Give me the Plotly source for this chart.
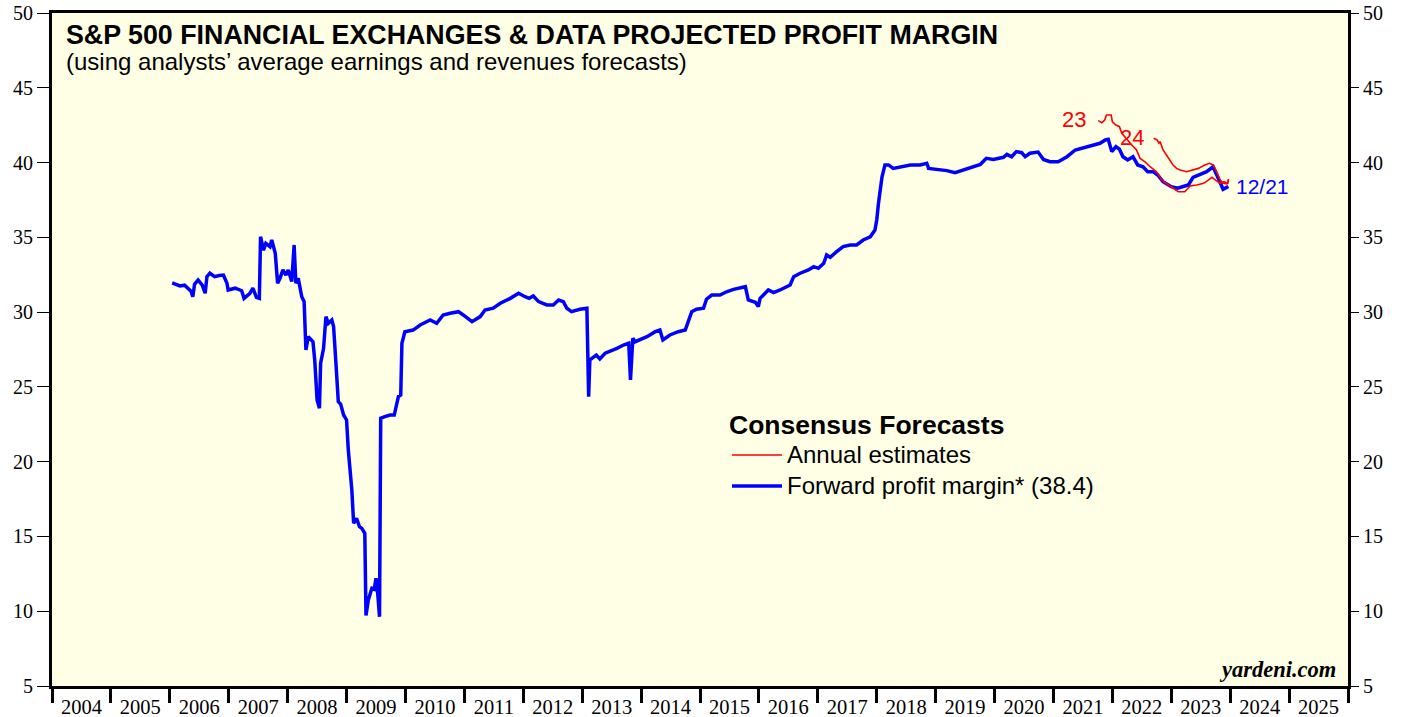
import plotly.graph_objects as go

# ---------------- data ----------------
fwd_year = [2006.04, 2006.10, 2006.17, 2006.25, 2006.31, 2006.36, 2006.39, 2006.42, 2006.48, 2006.55,
            2006.60, 2006.63, 2006.68, 2006.76, 2006.84, 2006.91, 2006.97, 2006.99, 2007.11, 2007.22,
            2007.26, 2007.36, 2007.41, 2007.47, 2007.52, 2007.54, 2007.59, 2007.63, 2007.70, 2007.73,
            2007.79, 2007.83, 2007.87, 2007.92, 2007.97, 2008.01, 2008.07, 2008.11, 2008.14, 2008.18,
            2008.24, 2008.28, 2008.31, 2008.35, 2008.43, 2008.46, 2008.50, 2008.54, 2008.56, 2008.61,
            2008.65, 2008.69, 2008.75, 2008.78, 2008.82, 2008.86, 2008.90, 2008.95, 2009.00, 2009.03,
            2009.09, 2009.12, 2009.17, 2009.22, 2009.26, 2009.31, 2009.33, 2009.37, 2009.43, 2009.47,
            2009.50, 2009.52, 2009.56, 2009.58, 2009.65, 2009.74, 2009.81, 2009.84, 2009.88, 2009.92,
            2009.94, 2009.99, 2010.13, 2010.25, 2010.42, 2010.53, 2010.64, 2010.76, 2010.90, 2010.98,
            2011.13, 2011.27, 2011.35, 2011.49, 2011.61, 2011.78, 2011.92, 2012.03, 2012.10, 2012.17,
            2012.26, 2012.40, 2012.51, 2012.60, 2012.68, 2012.74, 2012.82, 2012.96, 2013.08, 2013.11,
            2013.13, 2013.24, 2013.30, 2013.39, 2013.47, 2013.59, 2013.70, 2013.79, 2013.82, 2013.86,
            2013.90, 2013.98, 2014.10, 2014.24, 2014.32, 2014.37, 2014.49, 2014.63, 2014.75, 2014.80,
            2014.86, 2014.94, 2015.06, 2015.11, 2015.20, 2015.34, 2015.45, 2015.57, 2015.68, 2015.77,
            2015.82, 2015.94, 2015.99, 2016.02, 2016.16, 2016.25, 2016.36, 2016.47, 2016.53, 2016.59,
            2016.70, 2016.84, 2016.93, 2017.01, 2017.10, 2017.15, 2017.21, 2017.32, 2017.43, 2017.55,
            2017.66, 2017.77, 2017.89, 2017.97, 2018.00, 2018.03, 2018.06, 2018.09, 2018.14, 2018.20,
            2018.28, 2018.40, 2018.57, 2018.74, 2018.85, 2018.88, 2019.02, 2019.19, 2019.33, 2019.47,
            2019.64, 2019.76, 2019.86, 2019.98, 2020.15, 2020.21, 2020.29, 2020.37, 2020.46, 2020.52,
            2020.60, 2020.74, 2020.83, 2020.94, 2021.08, 2021.23, 2021.37, 2021.57, 2021.79, 2021.88,
            2021.93, 2021.99, 2022.06, 2022.12, 2022.18, 2022.26, 2022.35, 2022.43, 2022.52, 2022.60,
            2022.69, 2022.77, 2022.86, 2023.00, 2023.11, 2023.23, 2023.29, 2023.37, 2023.48, 2023.60,
            2023.71, 2023.77, 2023.83, 2023.88, 2023.94, 2023.97]
fwd_margin = [31.95, 31.85, 31.75, 31.80, 31.60, 31.40, 31.03, 31.86, 32.15, 31.80,
              31.26, 32.37, 32.60, 32.37, 32.45, 32.48, 31.93, 31.48, 31.60, 31.43,
              30.92, 31.26, 31.60, 30.99, 30.92, 35.04, 34.15, 34.60, 34.38, 34.82,
              33.93, 31.93, 32.26, 32.82, 32.48, 32.82, 32.04, 34.49, 31.93, 32.26,
              31.03, 30.70, 27.47, 28.36, 28.02, 26.80, 24.12, 23.57, 26.58, 27.58,
              29.70, 29.25, 29.47, 29.03, 26.58, 24.01, 23.85, 23.12, 22.79, 20.78,
              18.10, 15.88, 16.21, 15.65, 15.54, 15.21, 9.72, 10.75, 11.53, 11.47,
              12.20, 11.64, 9.63, 22.90, 23.01, 23.12, 23.12, 23.68, 24.35, 24.46,
              27.92, 28.69, 28.80, 29.14, 29.47, 29.25, 29.81, 29.92, 30.03, 29.81,
              29.36, 29.70, 30.14, 30.26, 30.59, 30.92, 31.26, 31.03, 30.92, 31.08,
              30.70, 30.48, 30.48, 30.81, 30.70, 30.26, 30.03, 30.19, 30.26, 24.35,
              26.80, 27.13, 26.87, 27.25, 27.36, 27.58, 27.80, 27.92, 25.46, 28.25,
              28.02, 28.14, 28.36, 28.69, 28.80, 28.14, 28.47, 28.69, 28.80, 29.36,
              30.03, 30.19, 30.26, 30.86, 31.14, 31.14, 31.36, 31.52, 31.59, 31.70,
              30.81, 30.66, 30.37, 30.92, 31.48, 31.30, 31.48, 31.70, 31.81, 32.37,
              32.60, 32.82, 33.04, 32.93, 33.26, 33.82, 33.67, 34.04, 34.38, 34.49,
              34.49, 34.82, 35.04, 35.49, 36.16, 37.28, 38.16, 39.05, 39.84, 39.84,
              39.61, 39.72, 39.84, 39.84, 39.95, 39.61, 39.55, 39.46, 39.32, 39.50,
              39.72, 39.88, 40.28, 40.21, 40.35, 40.55, 40.39, 40.73, 40.66, 40.39,
              40.62, 40.70, 40.21, 40.06, 40.06, 40.39, 40.84, 41.06, 41.29, 41.51,
              41.55, 40.73, 41.06, 40.89, 40.39, 40.17, 40.39, 39.84, 39.72, 39.39,
              39.39, 39.17, 38.72, 38.39, 38.28, 38.43, 38.50, 39.01, 39.17, 39.39,
              39.72, 39.17, 38.72, 38.21, 38.34, 38.40]

est23_year = [2021.76, 2021.82, 2021.87, 2021.90, 2021.98, 2022.00, 2022.06, 2022.12, 2022.16, 2022.25,
              2022.33, 2022.41, 2022.47, 2022.55, 2022.64, 2022.75, 2022.84, 2022.95, 2023.04, 2023.12,
              2023.23, 2023.32, 2023.43, 2023.55, 2023.63, 2023.69, 2023.75, 2023.83, 2023.90, 2023.95,
              2023.97]
est23_margin = [42.80, 42.66, 42.84, 43.18, 43.18, 42.73, 42.51, 42.40, 41.95, 41.51,
                41.17, 40.84, 40.28, 40.06, 39.72, 39.39, 38.83, 38.50, 38.28, 38.05,
                38.05, 38.43, 38.50, 38.61, 38.83, 39.01, 38.83, 38.61, 38.72, 38.61,
                38.83]

est24_year = [2022.70, 2022.76, 2022.79, 2022.81, 2022.86, 2022.92, 2022.97, 2023.03, 2023.09, 2023.15,
              2023.26, 2023.35, 2023.46, 2023.57, 2023.65, 2023.71, 2023.77, 2023.83, 2023.88, 2023.94,
              2023.96, 2023.97]
est24_margin = [41.62, 41.51, 41.29, 41.40, 40.84, 40.51, 40.17, 39.84, 39.61, 39.50,
                39.39, 39.50, 39.61, 39.84, 39.95, 39.84, 39.39, 38.83, 38.61, 38.57,
                38.61, 38.90]

years = list(range(2004, 2026))
y_ticks = list(range(5, 55, 5))

SANS = "Liberation Sans, Arial, sans-serif"
SERIF = "Liberation Serif, Times New Roman, serif"
RED = "#FF0000"
BLUE = "#0000FF"


def big(name):
    return '<span style="font-size:24px">' + name + "</span>"


fig = go.Figure()

fig.add_trace(go.Scatter(x=fwd_year, y=fwd_margin, mode="lines",
                         line=dict(color=BLUE, width=3.5),
                         name=big("Forward profit margin* (38.4)"), legendrank=2))
fig.add_trace(go.Scatter(x=est23_year, y=est23_margin, mode="lines",
                         line=dict(color=RED, width=1.6),
                         name=big("Annual estimates"), legendgroup="est", legendrank=1))
fig.add_trace(go.Scatter(x=est24_year, y=est24_margin, mode="lines",
                         line=dict(color=RED, width=1.6),
                         name="Annual estimates", legendgroup="est", showlegend=False))
# helper trace for the overlay axes (year labels / right-hand scale)
fig.add_trace(go.Scatter(x=[None], y=[None], xaxis="x2", yaxis="y2",
                         showlegend=False, hoverinfo="skip"))

fig.update_layout(
    width=1407, height=717,
    margin=dict(l=52, r=59, t=13, b=31, autoexpand=False),
    paper_bgcolor="white",
    plot_bgcolor="#FFFFE6",
    font=dict(family=SANS, color="black"),
    showlegend=True,
    legend=dict(
        x=(727 - 52) / 1296, y=(686 - 400) / 673, xanchor="left", yanchor="top",
        bgcolor="rgba(0,0,0,0)", borderwidth=0,
        font=dict(family=SANS, size=21.5, color="black"),
        title=dict(text="<b>Consensus Forecasts</b>", font=dict(family=SANS, size=26.5, color="black")),
        tracegroupgap=0, itemwidth=50,
    ),
    xaxis=dict(
        range=[2004, 2026], tickmode="array", tickvals=years + [2026],
        showticklabels=False, ticks="outside", ticklen=14, tickwidth=2.5, tickcolor="black",
        showline=True, linewidth=3, linecolor="black", mirror=True,
        showgrid=False, zeroline=False, automargin=False,
    ),
    xaxis2=dict(
        range=[2004, 2026], overlaying="x", anchor="y", side="bottom",
        tickmode="array", tickvals=[y + 0.5 for y in years], ticktext=[str(y) for y in years],
        ticks="outside", ticklen=2, tickcolor="rgba(0,0,0,0)",
        tickfont=dict(family=SERIF, size=20.5, color="black"), ticklabeloverflow="allow",
        showline=False, showgrid=False, zeroline=False, automargin=False,
    ),
    yaxis=dict(
        range=[5, 50], tickmode="array", tickvals=y_ticks,
        ticks="outside", ticklen=12, tickwidth=1, tickcolor="black",
        tickfont=dict(family=SERIF, size=20, color="black"), ticklabeloverflow="allow",
        showline=True, linewidth=3, linecolor="black", mirror=True,
        showgrid=False, zeroline=False, automargin=False,
    ),
    yaxis2=dict(
        range=[5, 50], overlaying="y", anchor="x", side="right",
        tickmode="array", tickvals=y_ticks,
        ticks="outside", ticklen=10, tickwidth=1, tickcolor="black",
        tickfont=dict(family=SERIF, size=20, color="black"), ticklabeloverflow="allow",
        showline=False, showgrid=False, zeroline=False, automargin=False,
    ),
)

annotations = [
    dict(text="<b>S&P 500 FINANCIAL EXCHANGES & DATA PROJECTED PROFIT MARGIN</b>",
         xref="paper", yref="paper", x=(64 - 52) / 1296, y=(686 - 18) / 673,
         xanchor="left", yanchor="top", showarrow=False,
         font=dict(family=SANS, size=26.8, color="black")),
    dict(text="(using analysts’ average earnings and revenues forecasts)",
         xref="paper", yref="paper", x=(64 - 52) / 1296, y=(686 - 46) / 673,
         xanchor="left", yanchor="top", showarrow=False,
         font=dict(family=SANS, size=24, color="black")),
    dict(text="<b><i>yardeni.com</i></b>",
         xref="paper", yref="paper", x=(1338 - 52) / 1296, y=(686 - 669) / 673,
         xanchor="right", yanchor="middle", showarrow=False,
         font=dict(family=SERIF, size=22.5, color="black")),
    dict(text="23", x=2021.58, y=42.85, xanchor="right", yanchor="middle", showarrow=False,
         font=dict(family=SANS, size=22, color=RED)),
    dict(text="24", x=2022.10, y=41.65, xanchor="left", yanchor="middle", showarrow=False,
         font=dict(family=SANS, size=22, color=RED)),
    dict(text="12/21", x=2024.07, y=38.37, xanchor="left", yanchor="middle", showarrow=False,
         font=dict(family=SANS, size=21, color=BLUE)),
]
fig.update_layout(annotations=annotations)

# the page body's default 8px margin would shift the fixed-size figure; remove it
fig.write_html("out.html", config={"displayModeBar": False},
               post_script="document.body.style.margin='0px';")
